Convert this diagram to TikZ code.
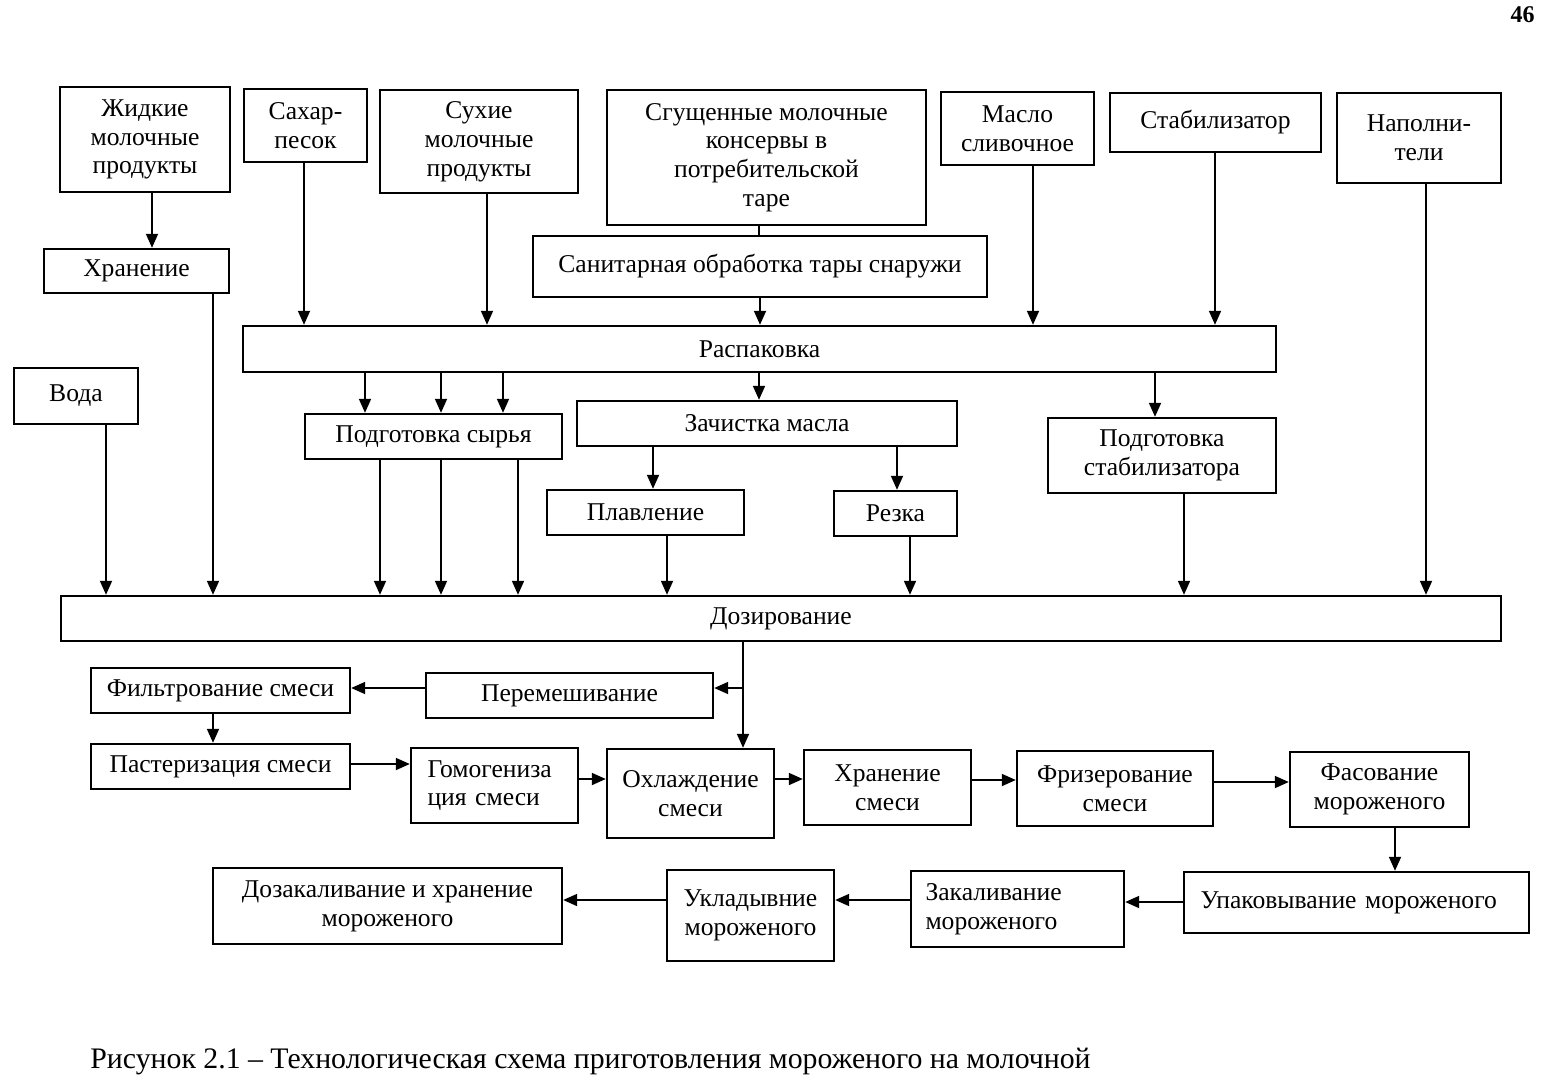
\documentclass[tikz,border=0pt]{standalone}
\usepackage{fontspec}
\setmainfont{Liberation Serif}
\usetikzlibrary{arrows.meta}
\tikzset{
  box/.style={draw, line width=1.2pt, inner sep=0pt, align=center,
    font=\fontsize{12.8}{14.4}\selectfont},
  arr/.style={line width=0.9pt, -{Triangle[length=7pt,width=6pt]}},
  ln/.style={line width=0.9pt},
}
% centered box: name, x1, y1, x2, y2, text
\newcommand\bx[6]{\node[box, minimum width={(#4-#2)*0.5pt}, minimum height={(#5-#3)*0.5pt}] (#1) at ({(#2+#4)/2},{(#3+#5)/2}) {#6};}
% left-aligned box: name, x1, y1, x2, y2, text width, text
\newcommand\bxl[7]{\node[box, align=left, text width=#6, minimum width={(#4-#2)*0.5pt}, minimum height={(#5-#3)*0.5pt}] (#1) at ({(#2+#4)/2},{(#3+#5)/2}) {#7};}
\begin{document}
\begin{tikzpicture}[x=0.5pt,y=-0.5pt]
\useasboundingbox (0,0) rectangle (1541,1088);
% top sources
\bx{zhid}{60}{87}{230}{192}{Жидкие\\молочные\\продукты}
\bx{sahar}{244}{89}{367}{162}{Сахар-\\песок}
\bx{suhie}{380}{90}{578}{193}{Сухие\\молочные\\продукты}
\bx{sgush}{607}{90}{926}{225}{Сгущенные молочные\\консервы в\\потребительской\\таре}
\bx{maslo}{941}{92}{1094}{165}{Масло\\сливочное}
\bx{stab}{1110}{93}{1321}{152}{Стабилизатор}
\bx{napol}{1337}{93}{1501}{183}{Наполни-\\тели}
\bx{hran}{44}{249}{229}{293}{Хранение}
\bx{sanit}{533}{236}{987}{297}{Санитарная обработка тары снаружи}
\bx{raspak}{243}{326}{1276}{372}{Распаковка}
\bx{voda}{14}{368}{138}{424}{Вода}
\bx{podsyr}{305}{414}{562}{459}{Подготовка сырья}
\bx{zachist}{577}{401}{957}{446}{Зачистка масла}
\bx{podstab}{1048}{418}{1276}{493}{Подготовка\\стабилизатора}
\bx{plav}{547}{490}{744}{535}{Плавление}
\bx{rezka}{834}{491}{957}{536}{Резка}
\bx{doz}{61}{596}{1501}{641}{Дозирование}
% mix processing
\bx{filt}{91}{668}{350}{713}{Фильтрование смеси}
\bx{perem}{426}{673}{713}{718}{Перемешивание}
\bx{past}{91}{744}{350}{789}{Пастеризация смеси}
\bxl{gomo}{411}{748}{578}{823}{67pt}{Гомогениза\\ция смеси}
\bx{ohl}{607}{749}{774}{838}{Охлаждение\\смеси}
\bx{hrsm}{804}{750}{971}{825}{Хранение\\смеси}
\bx{friz}{1017}{751}{1213}{826}{Фризерование\\смеси}
\bx{fas}{1290}{752}{1469}{827}{Фасование\\мороженого}
\bxl{upak}{1184}{872}{1529}{933}{156pt}{Упаковывание мороженого}
\bxl{zakal}{911}{871}{1124}{947}{92pt}{Закаливание\\мороженого}
\bx{uklad}{667}{870}{834}{961}{Укладывние\\мороженого}
\bx{dozak}{213}{868}{562}{944}{Дозакаливание и хранение\\мороженого}
% connectors: top
\draw[arr] (zhid.south -| 152,0) -- (hran.north -| 152,0);
\draw[arr] (hran.south -| 213,0) -- (doz.north -| 213,0);
\draw[arr] (sahar.south -| 304,0) -- (raspak.north -| 304,0);
\draw[arr] (suhie.south -| 487,0) -- (raspak.north -| 487,0);
\draw[ln] (sgush.south -| 759,0) -- (sanit.north -| 759,0);
\draw[arr] (sanit.south -| 760,0) -- (raspak.north -| 760,0);
\draw[arr] (maslo.south -| 1033,0) -- (raspak.north -| 1033,0);
\draw[arr] (stab.south -| 1215,0) -- (raspak.north -| 1215,0);
\draw[arr] (napol.south -| 1426,0) -- (doz.north -| 1426,0);
\draw[arr] (voda.south -| 106,0) -- (doz.north -| 106,0);
% from Распаковка
\draw[arr] (raspak.south -| 365,0) -- (podsyr.north -| 365,0);
\draw[arr] (raspak.south -| 441,0) -- (podsyr.north -| 441,0);
\draw[arr] (raspak.south -| 503,0) -- (podsyr.north -| 503,0);
\draw[arr] (raspak.south -| 759,0) -- (zachist.north -| 759,0);
\draw[arr] (raspak.south -| 1155,0) -- (podstab.north -| 1155,0);
% to Дозирование
\draw[arr] (podsyr.south -| 380,0) -- (doz.north -| 380,0);
\draw[arr] (podsyr.south -| 441,0) -- (doz.north -| 441,0);
\draw[arr] (podsyr.south -| 518,0) -- (doz.north -| 518,0);
\draw[arr] (zachist.south -| 653,0) -- (plav.north -| 653,0);
\draw[arr] (zachist.south -| 897,0) -- (rezka.north -| 897,0);
\draw[arr] (plav.south -| 667,0) -- (doz.north -| 667,0);
\draw[arr] (rezka.south -| 910,0) -- (doz.north -| 910,0);
\draw[arr] (podstab.south -| 1184,0) -- (doz.north -| 1184,0);
% from Дозирование
\draw[arr] (doz.south -| 743,0) -- (ohl.north -| 743,0);
\coordinate (br) at (743,688);
\draw[arr] (br) -- (perem.east |- br);
\draw[arr] (perem.west |- br) -- (filt.east |- br);
\draw[arr] (filt.south -| 213,0) -- (past.north -| 213,0);
\draw[arr] (past.east |- 0,764) -- (gomo.west |- 0,764);
\draw[arr] (gomo.east |- 0,779) -- (ohl.west |- 0,779);
\draw[arr] (ohl.east |- 0,779) -- (hrsm.west |- 0,779);
\draw[arr] (hrsm.east |- 0,780) -- (friz.west |- 0,780);
\draw[arr] (friz.east |- 0,782) -- (fas.west |- 0,782);
\draw[arr] (fas.south -| 1395,0) -- (upak.north -| 1395,0);
\draw[arr] (upak.west |- 0,902) -- (zakal.east |- 0,902);
\draw[arr] (zakal.west |- 0,900) -- (uklad.east |- 0,900);
\draw[arr] (uklad.west |- 0,900) -- (dozak.east |- 0,900);
% caption and page number
\node[anchor=base west, inner sep=0pt, font=\fontsize{14.9}{16}\selectfont] (cap) at (90,1068) {Рисунок 2.1 – Технологическая схема приготовления мороженого на молочной};
\node[anchor=base east, inner sep=0pt, font=\fontsize{12}{14}\selectfont\bfseries] (page) at (1535,22) {46};
\end{tikzpicture}
\end{document}
